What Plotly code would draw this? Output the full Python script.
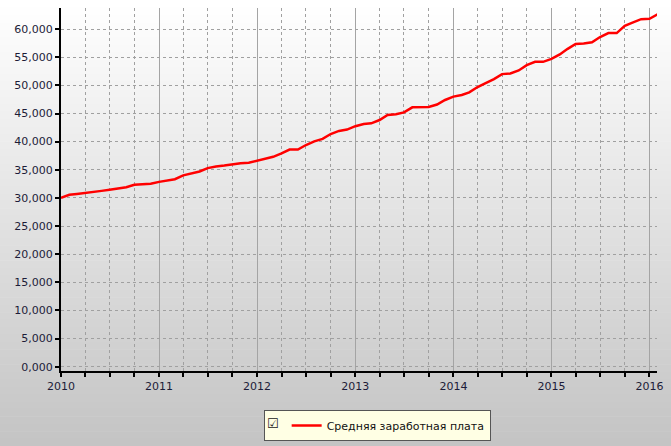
import plotly.graph_objects as go

months = [f"{2010 + i // 12}-{i % 12 + 1:02d}-01" for i in range(74)]
wages = [30000, 30550, 30700, 30850, 31100, 31250, 31450, 31650, 31900, 32350, 32400, 32500,
         32850, 33150, 33330, 34000, 34400, 34700, 35300, 35600, 35750, 36000, 36150, 36250,
         36600, 36950, 37300, 37900, 38600, 38600, 39400, 40050, 40500, 41350, 41900, 42150,
         42750, 43140, 43260, 43840, 44750, 44880, 45200, 46100, 46160, 46160, 46600, 47400,
         48000, 48290, 48750, 49700, 50400, 51100, 52000, 52120, 52650, 53590, 54180, 54180,
         54700, 55500, 56450, 57350, 57450, 57650, 58590, 59290, 59290, 60590, 61180, 61760,
         61820, 62650]
series_name = "Средняя заработная плата"
y_tickvals = [0, 5000, 10000, 15000, 20000, 25000, 30000, 35000, 40000, 45000, 50000, 55000, 60000]
y_ticktext = ["0,000", "5,000", "10,000", "15,000", "20,000", "25,000", "30,000",
              "35,000", "40,000", "45,000", "50,000", "55,000", "60,000"]

W, H = 671, 446
L, R, T, B = 61, 14, 8, 75

fig = go.Figure()
fig.add_trace(go.Scatter(x=months, y=wages, mode="lines", name=series_name,
                         line=dict(color="#ff0000", width=2.5)))

# background gradient (white at top to grey at bottom), in paper coords
pw = W - L - R
ph = H - T - B
shapes = []
n = 60
for i in range(n):
    y0px = H * i / n
    y1px = H * (i + 1) / n + 0.5
    f = (i + 0.5) / n
    g = int(round(255 - f * (255 - 196)))
    col = f"rgb({g},{g},{g})"
    shapes.append(dict(type="rect", xref="paper", yref="paper", layer="below",
                       x0=(0 - L) / pw, x1=(W - L) / pw,
                       y0=(H - B - y1px) / ph, y1=(H - B - y0px) / ph,
                       fillcolor=col, line=dict(width=0)))

fig.update_layout(
    width=W, height=H,
    margin=dict(l=L, r=R, t=T, b=B, autoexpand=False),
    paper_bgcolor="white",
    plot_bgcolor="rgba(0,0,0,0)",
    shapes=shapes,
    font=dict(family="DejaVu Sans", size=11, color="#1c1c38"),
    showlegend=True,
    legend=dict(x=(264 - L) / pw, xanchor="left", y=(H - B - 410) / ph, yanchor="top",
                bgcolor="#ffffe4", bordercolor="#555555", borderwidth=1,
                font=dict(family="DejaVu Sans", size=11, color="#111111"),
                title=dict(text="☑", side="left", font=dict(size=13, color="#222222"))),
)

fig.update_xaxes(
    type="date",
    automargin=False,
    range=["2010-01-01", "2016-01-29"],
    tickvals=[f"{y}-01-01" for y in range(2010, 2017)],
    tickformat="%Y",
    showline=True, linecolor="black", linewidth=2,
    ticks="outside", ticklen=4, tickwidth=2, tickcolor="black",
    showgrid=True, gridcolor="#a4a4a4", gridwidth=1,
    zeroline=False,
    minor=dict(dtick="M3", tick0="2010-01-01", showgrid=True, gridcolor="#a0a0a0",
               griddash="3px,3px", gridwidth=1, ticks="outside", ticklen=4,
               tickwidth=2, tickcolor="black"),
)
fig.update_yaxes(
    automargin=False,
    range=[-760, 63750],
    tickvals=y_tickvals, ticktext=y_ticktext,
    showline=True, linecolor="black", linewidth=2,
    ticks="outside", ticklen=4, tickwidth=2, tickcolor="black",
    showgrid=True, gridcolor="#a0a0a0", griddash="3px,3px", gridwidth=1,
    zeroline=False,
)

fig.write_html("out.html", config={"displayModeBar": False},
               post_script="document.body.style.margin='0';document.body.style.overflow='hidden';")
